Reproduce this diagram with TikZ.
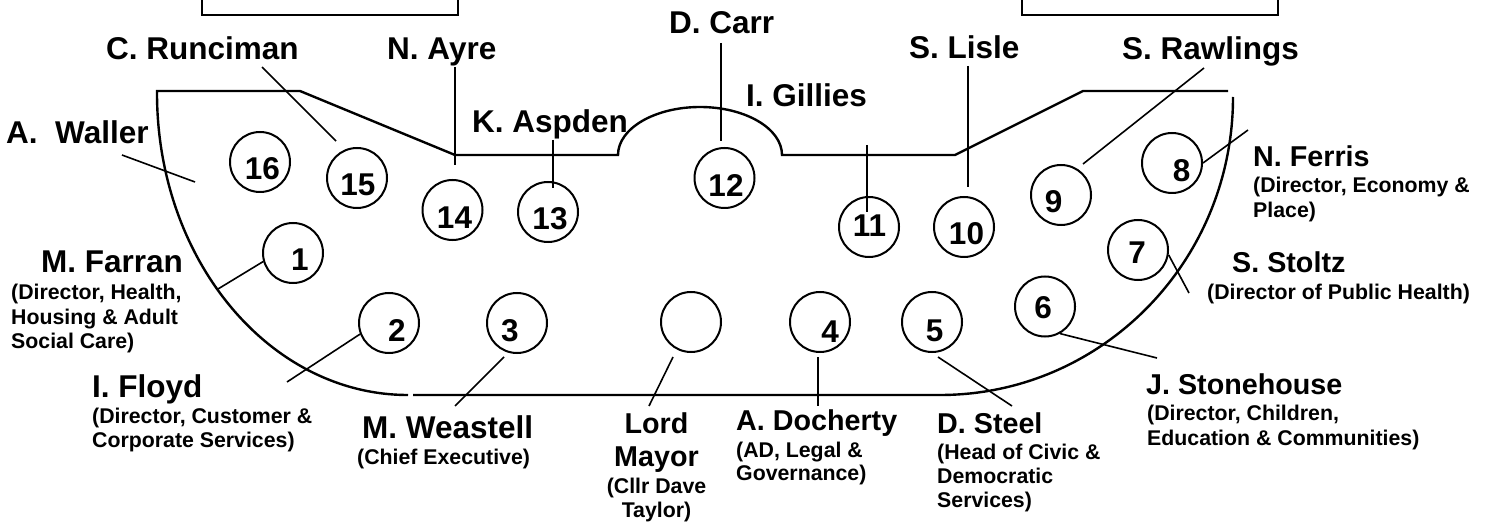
\documentclass[tikz,border=0pt]{standalone}
\usepackage{fontspec}
\setmainfont{Liberation Sans}
\begin{document}
\begin{tikzpicture}[x=1pt,y=-1pt,
  outline/.style={line width=2.4pt, line join=miter},
  topbox/.style={draw, line width=2pt, minimum width=256pt, minimum height=60pt, inner sep=0pt},
  seat/.style={circle, draw, line width=2pt, minimum size=60pt, inner sep=0pt},
  num/.style={inner sep=0pt, font=\fontsize{31.5}{36}\selectfont\bfseries},
  leader/.style={line width=1.6pt},
  bigname/.style={anchor=base west, inner sep=0pt, font=\fontsize{31.5}{36}\selectfont\bfseries},
  midname/.style={anchor=base west, inner sep=0pt, font=\fontsize{28.7}{33}\selectfont\bfseries},
  role/.style={anchor=base west, inner sep=0pt, font=\fontsize{21.3}{24}\selectfont\bfseries}]
\useasboundingbox (0,0) rectangle (1491,529);
\fill[white] (0,0) rectangle (1491,529);

% top boxes
\node[topbox] (boxL) at (330,-15) {};
\node[topbox] (boxR) at (1149.5,-15) {};

% table outline
\draw[outline] (408,395) arc[start angle=270,end angle=180,x radius=251pt,y radius=302pt]
  -- (157,91) -- (300,91) -- (455,155) -- (618,155)
  arc[start angle=180,end angle=0,x radius=82pt,y radius=48pt]
  -- (955,155) -- (1083,91) -- (1228,91);
\draw[outline] (1233,97) arc[start angle=0,end angle=-90,x radius=293pt,y radius=298pt] -- (413,395);

% seats
\node[seat] (c16) at (260,162) {};
\node[seat] (c15) at (357,178) {};
\node[seat] (c14) at (452.5,210) {};
\node[seat] (c13) at (548,212) {};
\node[seat] (c12) at (724.5,178) {};
\node[seat] (c11) at (869,227) {};
\node[seat] (c10) at (964,227) {};
\node[seat] (c9) at (1061,195) {};
\node[seat] (c8) at (1172,163) {};
\node[seat] (c7) at (1138,250) {};
\node[seat] (c6) at (1045,306.5) {};
\node[seat] (c5) at (932,322) {};
\node[seat] (c4) at (820,322) {};
\node[seat] (cM) at (691,322) {};
\node[seat] (c3) at (517,323) {};
\node[seat] (c2) at (389,323) {};
\node[seat] (c1) at (293,253) {};

% seat numbers
\node[num] (n16) at (262.5,169) {16};
\node[num] (n15) at (358,185) {15};
\node[num] (n14) at (454.5,217.5) {14};
\node[num] (n13) at (550,219) {13};
\node[num] (n12) at (726,185.5) {12};
\node[num] (n11) at (869.5,225.5) {11};
\node[num] (n10) at (966.5,234) {10};
\node[num] (n9) at (1053.5,202) {9};
\node[num] (n8) at (1181.5,170.5) {8};
\node[num] (n7) at (1137,253) {7};
\node[num] (n6) at (1043,307.5) {6};
\node[num] (n5) at (934.5,330.5) {5};
\node[num] (n4) at (830,332) {4};
\node[num] (n3) at (510,330.5) {3};
\node[num] (n2) at (397,330.5) {2};
\node[num] (n1) at (300,260) {1};

% names
\node[bigname] (runc) at (106,60) {C. Runciman};
\node[bigname] (ayre) at (387,60) {N. Ayre};
\node[bigname] (waller) at (6,144) {A.\ \ Waller};
\node[bigname] (aspden) at (472,133) {K. Aspden};
\node[bigname] (carr) at (669,34) {D. Carr};
\node[bigname] (gillies) at (746,107) {I. Gillies};
\node[bigname] (lisle) at (909,59) {S. Lisle};
\node[bigname] (rawl) at (1122,60) {S. Rawlings};

\node[midname] (ferris) at (1253,167) {N. Ferris};
\node[role] (ferris2) at (1253,193) {(Director, Economy \&};
\node[role] (ferris3) at (1253,218) {Place)};

\node[midname] (stoltz) at (1232,273) {S. Stoltz};
\node[role] (stoltz2) at (1207,300) {(Director of Public Health)};

\node[midname] (stone) at (1146,394) {J. Stonehouse};
\node[role] (stone2) at (1147,420) {(Director, Children,};
\node[role] (stone3) at (1147,445) {Education \& Communities)};

\node[midname] (steel) at (937,433) {D. Steel};
\node[role] (steel2) at (937,459) {(Head of Civic \&};
\node[role] (steel3) at (937,483) {Democratic};
\node[role] (steel4) at (937,507) {Services)};

\node[midname] (doch) at (736,430) {A. Docherty};
\node[role] (doch2) at (736,457) {(AD, Legal \&};
\node[role] (doch3) at (736,480) {Governance)};

\node[midname, anchor=base] (mayor) at (656.5,433) {Lord};
\node[midname, anchor=base] (mayor2) at (656.5,466) {Mayor};
\node[role, anchor=base] (mayor3) at (656.5,493) {(Cllr Dave};
\node[role, anchor=base] (mayor4) at (656.5,517) {Taylor)};

\node[bigname] (weast) at (362,438) {M. Weastell};
\node[role] (weast2) at (357,464) {(Chief Executive)};

\node[bigname] (floyd) at (92,397) {I. Floyd};
\node[role] (floyd2) at (92,423) {(Director, Customer \&};
\node[role] (floyd3) at (92,447) {Corporate Services)};

\node[bigname] (farran) at (41,273) {M. Farran};
\node[role] (farran2) at (11,300) {(Director, Health,};
\node[role] (farran3) at (11,324) {Housing \& Adult};
\node[role] (farran4) at (11,348) {Social Care)};

% leader end points
\coordinate (pRuncA) at (262,67);   \coordinate (pRuncB) at (336,141);
\coordinate (pAyreA) at (455,67);   \coordinate (pAyreB) at (455,165);
\coordinate (pWallA) at (122,155);  \coordinate (pWallB) at (195,182);
\coordinate (pAspA) at (553,140);   \coordinate (pAspB) at (553,188);
\coordinate (pCarrA) at (721,43);   \coordinate (pCarrB) at (721,141);
\coordinate (pGilA) at (867,145);   \coordinate (pGilB) at (867,212);
\coordinate (pLisA) at (968,66);    \coordinate (pLisB) at (968,187);
\coordinate (pRawA) at (1204,68);   \coordinate (pRawB) at (1083,164);
\coordinate (pFerB) at (1248,130);
\coordinate (pStoB) at (1189,293);
\coordinate (pStnB) at (1157,358);
\coordinate (pSteA) at (938,357);   \coordinate (pSteB) at (1012,406);
\coordinate (pDocA) at (818,357);   \coordinate (pDocB) at (818,406);
\coordinate (pMayA) at (673,357);   \coordinate (pMayB) at (649,406);
\coordinate (pWeaA) at (504,357);   \coordinate (pWeaB) at (455,406);
\coordinate (pFloB) at (287,382);
\coordinate (pFarB) at (218,289);

% leaders
\draw[leader] (pRuncA) -- (pRuncB);
\draw[leader] (pAyreA) -- (pAyreB);
\draw[leader] (pWallA) -- (pWallB);
\draw[leader] (pAspA) -- (pAspB);
\draw[leader] (pCarrA) -- (pCarrB);
\draw[leader] (pGilA) -- (pGilB);
\draw[leader] (pLisA) -- (pLisB);
\draw[leader] (pRawA) -- (pRawB);
\draw[leader] (c8.0) -- (pFerB);
\draw[leader] (c7.-9) -- (pStoB);
\draw[leader] (c6.-61) -- (pStnB);
\draw[leader] (pSteA) -- (pSteB);
\draw[leader] (pDocA) -- (pDocB);
\draw[leader] (pMayA) -- (pMayB);
\draw[leader] (pWeaA) -- (pWeaB);
\draw[leader] (c2.201) -- (pFloB);
\draw[leader] (c1.196) -- (pFarB);
\end{tikzpicture}
\end{document}
